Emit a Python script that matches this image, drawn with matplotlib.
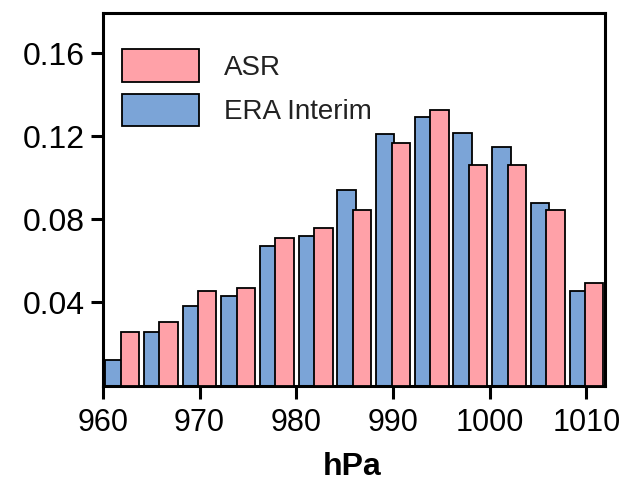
import numpy as np
import matplotlib.pyplot as plt
from matplotlib.patches import Patch

# pressure bins (hPa), centre of each pair of bars
centres = [962, 966, 970, 974, 978, 982, 986, 990, 994, 998, 1002, 1006, 1010]

era = [0.0124, 0.026, 0.0384, 0.0432, 0.0673, 0.0721, 0.0942,
       0.121, 0.1295, 0.1218, 0.1148, 0.0881, 0.0456]
asr = [0.026, 0.0308, 0.0453, 0.0469, 0.071, 0.0758, 0.0846,
       0.117, 0.1327, 0.1063, 0.1063, 0.0843, 0.0493]

xticks = [960, 970, 980, 990, 1000, 1010]
yticks = [0.04, 0.08, 0.12, 0.16]

blue = '#7ba4d7'
pink = '#ffa1a8'

plt.rcParams['font.family'] = ['Liberation Sans', 'DejaVu Sans']

fig = plt.figure(figsize=(6.21, 4.87), dpi=100)
ax = fig.add_axes([0.1655, 0.2084, 0.8085, 0.7649])

c = np.array(centres, dtype=float)
w = 1.9
ax.bar(c - 0.8, era, width=w, color=blue, edgecolor='black', linewidth=1.3, zorder=2)
ax.bar(c + 0.8, asr, width=w, color=pink, edgecolor='black', linewidth=1.3, zorder=3)

ax.set_xlim(960, 1011.9)
ax.set_ylim(0, 0.1794)
ax.set_xticks(xticks)
ax.set_yticks(yticks)
ax.set_yticklabels(['%.2f' % v for v in yticks], fontsize=23)
ax.set_xticklabels([str(v) for v in xticks], fontsize=22)

for s in ax.spines.values():
    s.set_linewidth(2.2)
ax.tick_params(axis='both', direction='out', length=9, width=2.2, color='black')
ax.tick_params(axis='y', pad=4)
ax.tick_params(axis='x', pad=7)

ax.set_xlabel('hPa', fontsize=23, fontweight='bold', labelpad=0, va='center')
ax.xaxis.set_label_coords(0.497, -0.219)

handles = [Patch(facecolor=pink, edgecolor='black', linewidth=1.3),
           Patch(facecolor=blue, edgecolor='black', linewidth=1.3)]
leg = ax.legend(handles, ['ASR', 'ERA Interim'], loc='upper left',
                bbox_to_anchor=(0.039, 0.903), frameon=False, fontsize=20,
                borderpad=0, borderaxespad=0, handlelength=2.75,
                handleheight=1.43, labelspacing=0.43, handletextpad=0.9)
for t in leg.get_texts():
    t.set_color('#222222')

plt.savefig('out.png', dpi=100)
